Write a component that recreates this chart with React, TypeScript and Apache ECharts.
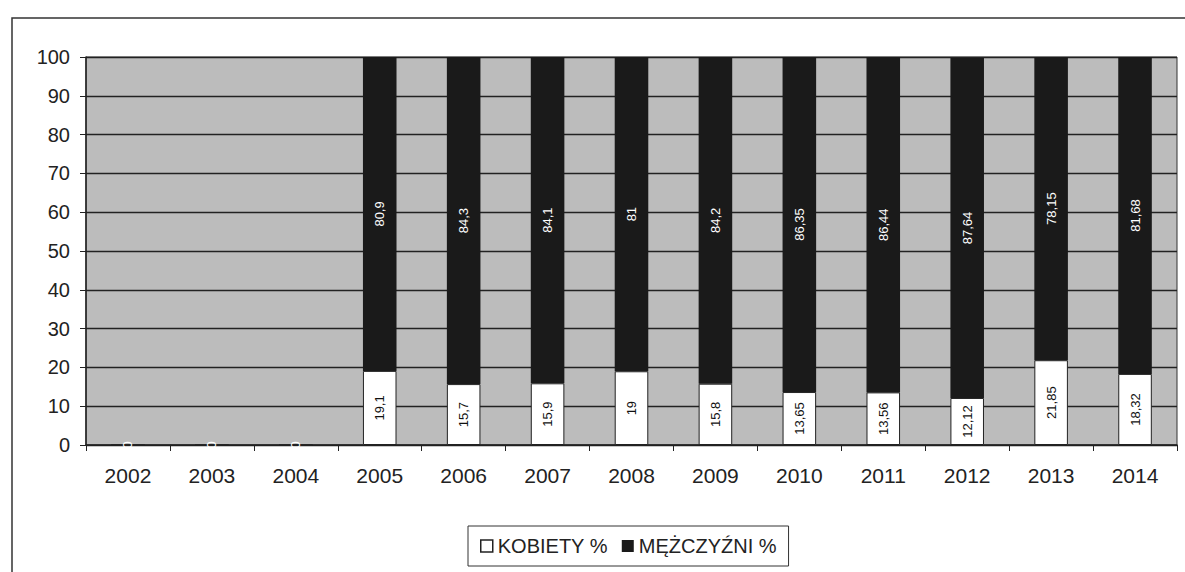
import React, { useEffect, useRef } from "react";
import * as echarts from "echarts";

const years = ["2002", "2003", "2004", "2005", "2006", "2007", "2008", "2009", "2010", "2011", "2012", "2013", "2014"];
const kobiety = [0, 0, 0, 19.1, 15.7, 15.9, 19, 15.8, 13.65, 13.56, 12.12, 21.85, 18.32];
const mezczyzni = [null, null, null, 80.9, 84.3, 84.1, 81, 84.2, 86.35, 86.44, 87.64, 78.15, 81.68];
const yTicks = [0, 10, 20, 30, 40, 50, 60, 70, 80, 90, 100];

const fmt = (v: number) => String(v).replace(".", ",");

export default function App() {
  const ref = useRef<HTMLDivElement>(null);
  useEffect(() => {
    document.body.style.margin = "0";
    const chart = echarts.init(ref.current!, null, { renderer: "svg" });
    chart.setOption({
      animation: false,
      textStyle: { fontFamily: "Liberation Sans, Arial, sans-serif" },
      graphic: [
        {
          type: "rect",
          shape: { x: 12, y: 18, width: 1180, height: 560 },
          style: { fill: "none", stroke: "#333", lineWidth: 1.5 },
          silent: true,
          z: -10,
        },
      ],
      grid: {
        left: 86,
        right: 8,
        top: 57,
        bottom: 127,
        show: true,
        backgroundColor: "#bcbcbc",
        borderColor: "#333",
        borderWidth: 1,
      },
      legend: {
        bottom: 6,
        left: 468,
        padding: [10, 12],
        borderColor: "#333",
        borderWidth: 1,
        itemWidth: 12,
        itemHeight: 12,
        itemGap: 14,
        icon: "rect",
        textStyle: { fontSize: 20, color: "#222", fontFamily: "Liberation Sans, Arial, sans-serif" },
        data: [
          { name: "KOBIETY %", itemStyle: { color: "#fff", borderColor: "#222", borderWidth: 1.5 } },
          { name: "MĘŻCZYŹNI %", itemStyle: { color: "#1a1a1a" } },
        ],
      },
      xAxis: {
        type: "category",
        data: years,
        axisLine: { lineStyle: { color: "#222", width: 1.5 } },
        axisTick: { show: true, length: 6, lineStyle: { color: "#222" } },
        axisLabel: { fontSize: 21, color: "#222", margin: 20 },
      },
      yAxis: {
        type: "value",
        min: 0,
        max: 100,
        interval: 10,
        axisLine: { show: true, lineStyle: { color: "#222", width: 1.5 } },
        axisTick: { show: true, length: 6, lineStyle: { color: "#222" } },
        axisLabel: { fontSize: 20, color: "#222", margin: 16, formatter: (v: number) => (yTicks.includes(v) ? String(v) : "") },
        splitLine: { lineStyle: { color: "#222", width: 1.3 } },
      },
      series: [
        {
          name: "KOBIETY %",
          type: "bar",
          stack: "s",
          barWidth: "40%",
          data: kobiety,
          itemStyle: { color: "#fff", borderColor: "#222", borderWidth: 1 },
          label: {
            show: true,
            position: "inside",
            rotate: 90,
            fontSize: 13,
            color: "#111",
            formatter: (p: any) => (p.value === 0 ? "{w|0}" : fmt(p.value)),
            rich: { w: { color: "#fff", fontSize: 13 } },
          },
        },
        {
          name: "MĘŻCZYŹNI %",
          type: "bar",
          stack: "s",
          barWidth: "40%",
          data: mezczyzni,
          itemStyle: { color: "#1a1a1a" },
          label: {
            show: true,
            position: "inside",
            rotate: 90,
            fontSize: 13,
            color: "#fff",
            formatter: (p: any) => fmt(p.value),
          },
        },
      ],
    });
    return () => chart.dispose();
  }, []);
  return <div ref={ref} style={{ width: 1185, height: 572 }} />;
}
